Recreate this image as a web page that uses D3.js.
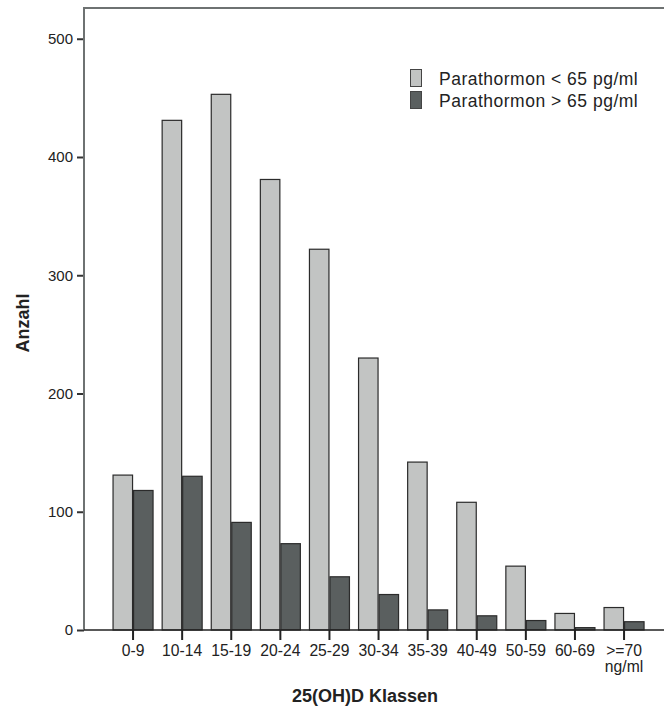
<!DOCTYPE html>
<html>
<head>
<meta charset="utf-8">
<script src="https://cdn.jsdelivr.net/npm/d3@7"></script>
<style>
  html, body { margin: 0; padding: 0; background: #fff; }
  svg { display: block; }
  text { font-family: "Liberation Sans", Arial, sans-serif; fill: #222; }
</style>
</head>
<body>
<svg id="chart" width="664" height="708"></svg>
<script>
const categories = ["0-9", "10-14", "15-19", "20-24", "25-29", "30-34", "35-39", "40-49", "50-59", "60-69", ">=70"];
const seriesNames = ["Parathormon < 65 pg/ml", "Parathormon > 65 pg/ml"];
const valuesLow  = [131, 431, 453, 381, 322, 230, 142, 108, 54, 14, 19];
const valuesHigh = [118, 130, 91, 73, 45, 30, 17, 12, 8, 2, 7];
const yTicks = [0, 100, 200, 300, 400, 500];
const colors = ["#c2c4c3", "#5a5f5f"];

const svg = d3.select("#chart");
const mLeft = 84, mRight = 664, mTop = 8, mBottom = 630;

const x = d3.scaleBand().domain(categories).range([108.5, 648.6])
  .paddingInner(0.165).paddingOuter(0.0825);
const xs = d3.scaleBand().domain(seriesNames).range([0, x.bandwidth()]);
const y = d3.scaleLinear().domain([0, 526]).range([mBottom, mTop]);

const data = categories.map((c, i) => ({ cat: c, vals: [valuesLow[i], valuesHigh[i]] }));

// frame line top
svg.append("line").attr("x1", mLeft).attr("x2", mRight).attr("y1", mTop).attr("y2", mTop)
  .attr("stroke", "#6e7272").attr("stroke-width", 2);

// bars
const g = svg.append("g");
data.forEach(d => {
  d.vals.forEach((v, j) => {
    g.append("rect")
      .attr("x", x(d.cat) + xs(seriesNames[j]) + 0.5)
      .attr("y", y(v))
      .attr("width", xs.bandwidth() - 1)
      .attr("height", mBottom - y(v))
      .attr("fill", colors[j])
      .attr("stroke", "#2b2b2b")
      .attr("stroke-width", 1.2);
  });
});

// y axis
const yAxis = d3.axisLeft(y).tickValues(yTicks).tickSize(7).tickPadding(4).tickFormat(d3.format("d"));
const ya = svg.append("g").attr("transform", `translate(${mLeft},0)`).call(yAxis);
ya.select(".domain").remove();
ya.selectAll(".tick line").attr("stroke", "#333").attr("stroke-width", 2);
ya.selectAll(".tick text").style("font-size", "15px").attr("fill", "#222");
svg.append("line").attr("x1", mLeft).attr("x2", mLeft).attr("y1", mTop - 1).attr("y2", mBottom)
  .attr("stroke", "#6e7272").attr("stroke-width", 2);

// x axis
const xAxis = d3.axisBottom(x).tickSize(10).tickPadding(3).tickFormat(() => "");
const xa = svg.append("g").attr("transform", `translate(0,${mBottom})`).call(xAxis);
xa.select(".domain").remove();
xa.selectAll(".tick line").attr("stroke", "#222").attr("stroke-width", 2);
xa.selectAll(".tick").each(function(d) {
  const t = d3.select(this).append("text").attr("text-anchor", "middle")
    .style("font-size", "15.7px").attr("fill", "#222");
  t.append("tspan").attr("x", 0).attr("y", 25.5).text(d);
  if (d === ">=70") t.append("tspan").attr("x", 0).attr("y", 42).text("ng/ml");
});
svg.append("line").attr("x1", mLeft).attr("x2", mRight).attr("y1", mBottom).attr("y2", mBottom)
  .attr("stroke", "#222").attr("stroke-width", 1.5);

// axis titles
svg.append("text").attr("x", 365).attr("y", 702).attr("text-anchor", "middle")
  .style("font-size", "18px").style("font-weight", "bold").text("25(OH)D Klassen");
svg.append("text").attr("transform", "translate(29,323) rotate(-90)").attr("text-anchor", "middle")
  .style("font-size", "18px").style("font-weight", "bold").text("Anzahl");

// legend
const lg = svg.append("g").attr("transform", "translate(410,69)");
seriesNames.forEach((s, i) => {
  const row = lg.append("g").attr("transform", `translate(0,${i * 22})`);
  row.append("rect").attr("x", 0.5).attr("y", 0.5).attr("width", 11).attr("height", 17)
    .attr("fill", colors[i]).attr("stroke", "#444").attr("stroke-width", 1);
  row.append("text").attr("x", 29).attr("y", 16).style("font-size", "17.5px")
    .style("letter-spacing", "0.5px").text(s);
});
</script>
</body>
</html>
